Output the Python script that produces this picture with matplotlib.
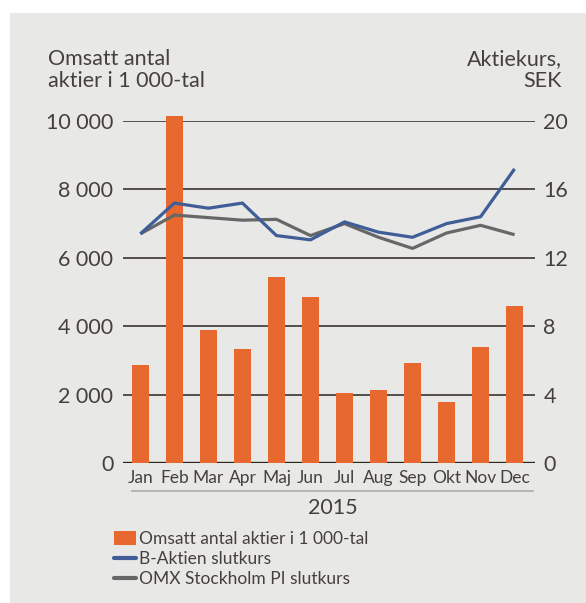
import matplotlib
matplotlib.use("Agg")
import matplotlib.pyplot as plt
from matplotlib.patches import Rectangle, Patch
from matplotlib.lines import Line2D
import numpy as np

months = ["Jan", "Feb", "Mar", "Apr", "Maj", "Jun", "Jul", "Aug", "Sep", "Okt", "Nov", "Dec"]
volume = [2870, 10150, 3890, 3330, 5440, 4850, 2050, 2130, 2920, 1780, 3390, 4590]
b_aktien = [13.4, 15.2, 14.9, 15.2, 13.3, 13.05, 14.1, 13.5, 13.2, 14.0, 14.4, 17.2]
omx = [13.4, 14.5, 14.35, 14.2, 14.25, 13.3, 14.0, 13.2, 12.55, 13.45, 13.9, 13.35]
left_ticks = [0, 2000, 4000, 6000, 8000, 10000]
left_labels = ["0", "2 000", "4 000", "6 000", "8 000", "10 000"]
right_ticks = [0, 4, 8, 12, 16, 20]
year_label = "2015"
legend_labels = ["Omsatt antal aktier i 1 000-tal", "B-Aktien slutkurs", "OMX Stockholm PI slutkurs"]

ORANGE = "#E8692F"
BLUE = "#3F5E98"
GREY = "#676767"
BG = "#E8E8E6"
TXT = "#45403c"
GRID = "#2b2520"
FW = "normal"

plt.rcParams["font.family"] = ["Lato", "DejaVu Sans"]

W, H = 586, 603
fig = plt.figure(figsize=(W / 100, H / 100), dpi=100)
fig.patch.set_facecolor("white")
fig.patches.append(Rectangle((10 / W, 0), 1 - 10 / W, 1 - 13 / H, transform=fig.transFigure,
                             facecolor=BG, edgecolor="none", zorder=-10))

ax = fig.add_axes([123 / W, 1 - 463 / H, (535 - 123) / W, (463 - 121) / H])
ax.set_facecolor("none")
x = np.arange(len(months))
ax.bar(x, volume, width=0.5, color=ORANGE, clip_on=False, zorder=3)
ax.set_xlim(-0.51, 11.6)
ax.set_ylim(0, 10000)
ax.set_yticks(left_ticks)
ax.set_yticklabels(left_labels)
for t in left_ticks:
    ax.axhline(t, color=GRID, lw=2.4 if t == 0 else 1.1, zorder=2)
for s in ax.spines.values():
    s.set_visible(False)
ax.tick_params(axis="y", length=0, pad=7, labelsize=15.5, labelcolor=TXT)
ax.set_xticks(x)
ax.set_xticklabels(months)
ax.tick_params(axis="x", length=0, pad=5, labelsize=12.5, labelcolor=TXT)
for lbl in ax.get_yticklabels() + ax.get_xticklabels():
    lbl.set_fontweight(FW)

ax2 = ax.twinx()
ax2.set_ylim(0, 20)
ax2.set_yticks(right_ticks)
ax2.tick_params(axis="y", length=0, pad=6, labelsize=15.5, labelcolor=TXT)
for lbl in ax2.get_yticklabels():
    lbl.set_fontweight(FW)
for s in ax2.spines.values():
    s.set_visible(False)
ax2.plot(x, omx, color=GREY, lw=2.3, solid_capstyle="butt", zorder=4)
ax2.plot(x, b_aktien, color=BLUE, lw=2.3, solid_capstyle="butt", zorder=5)

# underline below month labels
fig.add_artist(Line2D([132 / W, 533 / W], [1 - 491 / H, 1 - 491 / H], transform=fig.transFigure,
                      color="#ababab", lw=1.2))
fig.text(333 / W, 1 - 508 / H, year_label, ha="center", va="center", fontsize=15.5,
         color=TXT, fontweight=FW)

fig.text(48 / W, 1 - 49 / H, "Omsatt antal\naktier i 1 000-tal", ha="left", va="top",
         fontsize=15.5, color=TXT, fontweight=FW, linespacing=1.1)
fig.text(562 / W, 1 - 49 / H, "Aktiekurs,\nSEK", ha="right", va="top",
         fontsize=15.5, color=TXT, fontweight=FW, linespacing=1.1)

handles = [Patch(facecolor=ORANGE, edgecolor="none"),
           Line2D([], [], color=BLUE, lw=3, solid_capstyle="round"),
           Line2D([], [], color=GREY, lw=3, solid_capstyle="round")]
leg = fig.legend(handles, legend_labels, loc="upper left", bbox_to_anchor=(114 / W, 1 - 531 / H),
                 frameon=False, fontsize=12.5, handlelength=1.25, handleheight=0.85,
                 handletextpad=0.2, labelspacing=0.24, borderaxespad=0, borderpad=0)
for t in leg.get_texts():
    t.set_color(TXT)
    t.set_fontweight(FW)

fig.savefig("out.png", dpi=100, facecolor="white")
